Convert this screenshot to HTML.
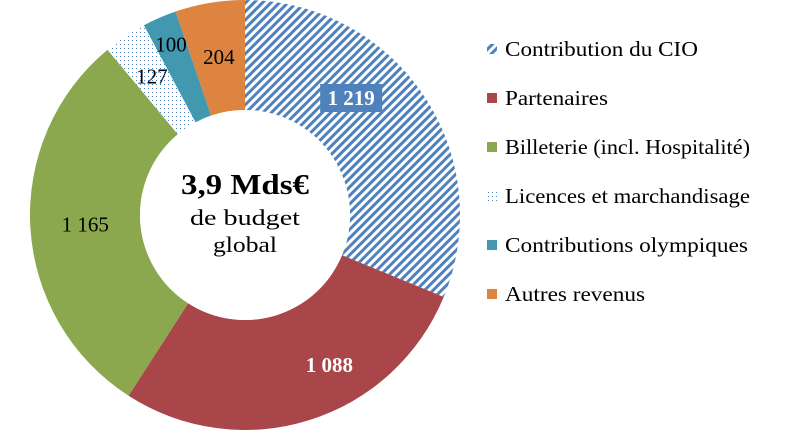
<!DOCTYPE html>
<html><head><meta charset="utf-8"><style>
body{margin:0;background:#fff;}
svg{display:block;font-family:"Liberation Serif",serif;}
</style></head><body>
<svg id="chart" width="806" height="431">
<defs>
<pattern id="stripes" width="6" height="6" patternUnits="userSpaceOnUse" patternTransform="rotate(45)">
<rect width="6" height="6" fill="#fff"/><rect width="3" height="6" fill="#4F81BD"/>
</pattern>
<pattern id="dots" width="4" height="4" patternUnits="userSpaceOnUse">
<rect width="4" height="4" fill="#fff"/><rect width="1" height="1" fill="#4F81BD"/>
</pattern>
</defs>
<g id="slices"></g>
<g id="labels"></g>
<circle cx="245" cy="215" r="105" fill="#fff"/>
<text x="245" y="194" text-anchor="middle" font-size="29" font-weight="bold" textLength="128" lengthAdjust="spacingAndGlyphs">3,9 Mds€</text>
<text x="245" y="225" text-anchor="middle" font-size="22" textLength="110" lengthAdjust="spacingAndGlyphs">de budget</text>
<text x="245" y="252" text-anchor="middle" font-size="22" textLength="64" lengthAdjust="spacingAndGlyphs">global</text>
<g id="legend"></g>
</svg>
<script>
const categories=["Contribution du CIO","Partenaires","Billeterie (incl. Hospitalité)","Licences et marchandisage","Contributions olympiques","Autres revenus"];
const values=[1219,1088,1165,127,100,204];
const labels=["1 219","1 088","1 165","127","100","204"];
const fills=["url(#stripes)","#A9464A","#8BA84E","url(#dots)","#4298AF","#DD8440"];
// label placement tweaks (style, not data): angle offset (deg) and radius
const labAdj=[[-14,158],[-12,172],[0,160],[0,167],[0,186],[0,160]];
const legWidth=[193,103,245,245,243,140];
const NS="http://www.w3.org/2000/svg";
const cx=245,cy=215,R=215,r=105;
const total=values.reduce((a,b)=>a+b,0);
function pt(a,rad){return [cx+rad*Math.sin(a),cy-rad*Math.cos(a)];}
let acc=0;
const sg=document.getElementById('slices'),lg=document.getElementById('labels'),leg=document.getElementById('legend');
values.forEach((v,i)=>{
 const a0=acc/total*2*Math.PI,a1=(acc+v)/total*2*Math.PI;acc+=v;
 const [x0,y0]=pt(a0,R),[x1,y1]=pt(a1,R),[x2,y2]=pt(a1,r),[x3,y3]=pt(a0,r);
 const big=a1-a0>Math.PI?1:0;
 const p=document.createElementNS(NS,'path');
 p.setAttribute('d',`M${x0},${y0}A${R},${R} 0 ${big} 1 ${x1},${y1}L${x2},${y2}A${r},${r} 0 ${big} 0 ${x3},${y3}Z`);
 p.setAttribute('fill',fills[i]);
 
 
 sg.appendChild(p);
 const am=(a0+a1)/2+labAdj[i][0]*Math.PI/180;
 const [lx,ly]=pt(am,labAdj[i][1]);
 const t=document.createElementNS(NS,'text');
 t.setAttribute('x',lx);t.setAttribute('y',ly+7);
 t.setAttribute('text-anchor','middle');t.setAttribute('font-size','21');
 if(i===0||i===1){t.setAttribute('fill','#fff');t.setAttribute('font-weight','bold');}
 if(i===0){
  const b=document.createElementNS(NS,'rect');
  b.setAttribute('x',lx-31);b.setAttribute('y',ly-14);b.setAttribute('width',62);b.setAttribute('height',28);b.setAttribute('fill','#4F81BD');
  
  
  lg.appendChild(b);
 }
 t.textContent=labels[i];
 
 
 lg.appendChild(t);
 const ly2=49+i*49;
 const s=document.createElementNS(NS,'rect');
 s.setAttribute('x',487);s.setAttribute('y',ly2-5);s.setAttribute('width',10);s.setAttribute('height',10);s.setAttribute('fill',fills[i]);
 
 
 leg.appendChild(s);
 const lt=document.createElementNS(NS,'text');
 lt.setAttribute('x',505);lt.setAttribute('y',ly2+7);lt.setAttribute('font-size','21');
 lt.setAttribute('textLength',legWidth[i]);lt.setAttribute('lengthAdjust','spacingAndGlyphs');
 lt.textContent=categories[i];
 
 
 leg.appendChild(lt);
});
</script>
</body></html>
